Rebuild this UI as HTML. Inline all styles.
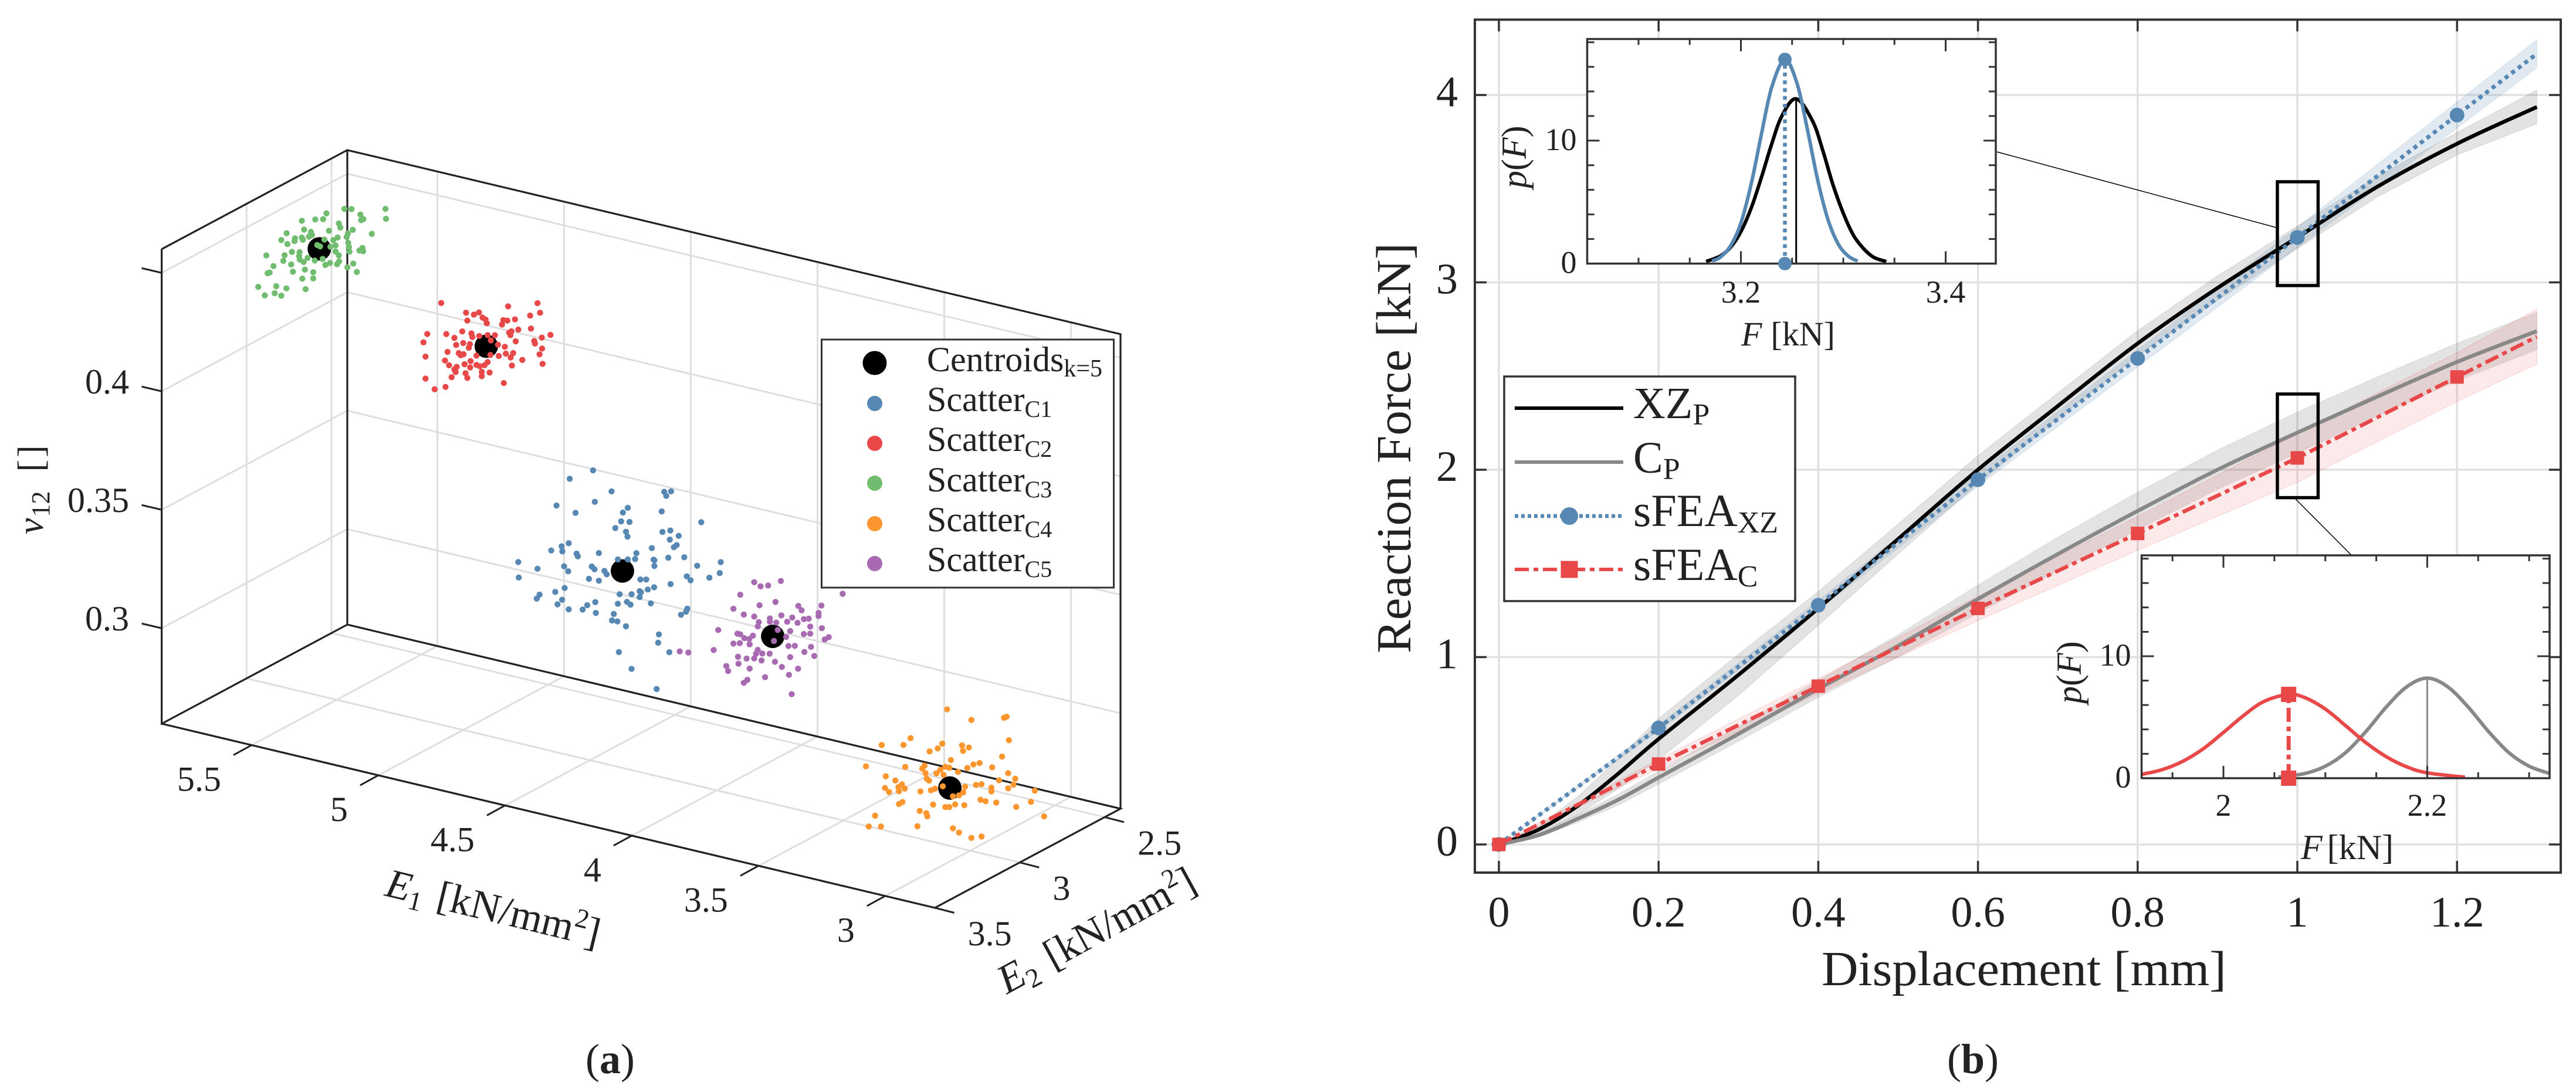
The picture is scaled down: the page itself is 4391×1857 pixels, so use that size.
<!DOCTYPE html>
<html lang="en">
<head>
<meta charset="utf-8">
<title>Clustered scatter and reaction force curves</title>
<style>
html,body{margin:0;padding:0;background:#fff;}
svg{display:block;font-family:"Liberation Serif",serif;fill:#222;}
text{fill:#222;}
</style>
</head>
<body>
<svg id="figure" xmlns="http://www.w3.org/2000/svg" width="4391" height="1857" viewBox="0 0 4391 1857">
  <rect x="0" y="0" width="4391" height="1857" fill="#ffffff"/>

  <g id="panelA">
    <g id="a3dGrid"></g>
    <g id="a3dBox"></g>
    <g id="a3dAxes"></g>
    <g id="a3dPoints"></g>

    <text transform="translate(73,911) rotate(-90)" font-size="62"><tspan font-style="italic">ν</tspan><tspan font-size="44" dy="11" dx="2">12</tspan><tspan dy="-11" dx="33">[</tspan><tspan dx="4">]</tspan></text>
    <text transform="translate(654,1527) rotate(13.6)" font-size="70"><tspan font-style="italic">E</tspan><tspan font-size="46" dy="12">1</tspan><tspan dy="-12" dx="24">[kN/mm</tspan><tspan font-size="46" dy="-26">2</tspan><tspan dy="26">]</tspan></text>
    <text transform="translate(1716,1696) rotate(-28.6)" font-size="70"><tspan font-style="italic">E</tspan><tspan font-size="46" dy="12">2</tspan><tspan dy="-12" dx="24">[kN/mm</tspan><tspan font-size="46" dy="-26">2</tspan><tspan dy="26">]</tspan></text>

    <g>
      <rect x="1400.5" y="579" width="498" height="423" fill="#ffffff" stroke="#333" stroke-width="3"/>
      <circle cx="1491" cy="619" r="20.5" fill="#000"/>
      <circle cx="1491" cy="688" r="13" fill="#5788b3"/>
      <circle cx="1491" cy="756" r="13" fill="#e94849"/>
      <circle cx="1491" cy="824" r="13" fill="#70bd70"/>
      <circle cx="1491" cy="893" r="13" fill="#fe9630"/>
      <circle cx="1491" cy="961" r="13" fill="#a86bb2"/>
      <text x="1580" y="633" font-size="60">Centroids<tspan font-size="42" dy="9">k=5</tspan></text>
      <text x="1580" y="701" font-size="60">Scatter<tspan font-size="40" dy="10">C1</tspan></text>
      <text x="1580" y="769" font-size="60">Scatter<tspan font-size="40" dy="10">C2</tspan></text>
      <text x="1580" y="838" font-size="60">Scatter<tspan font-size="40" dy="10">C3</tspan></text>
      <text x="1580" y="906" font-size="60">Scatter<tspan font-size="40" dy="10">C4</tspan></text>
      <text x="1580" y="974" font-size="60">Scatter<tspan font-size="40" dy="10">C5</tspan></text>
    </g>
    <text x="1040" y="1830" font-size="72" text-anchor="middle">(<tspan font-weight="bold">a</tspan>)</text>
  </g>

  <g id="panelB">
    <g id="mainGrid"></g>
    <g id="mainBands"></g>
    <g id="mainSeries"></g>
    <g id="mainBoxes"></g>
    <rect x="2514" y="33.5" width="1851" height="1454.5" fill="none" stroke="#333" stroke-width="4"/>
    <g id="mainTicks"></g>
    <text x="3105" y="1680" font-size="84" textLength="690" lengthAdjust="spacingAndGlyphs">Displacement [mm]</text>
    <text transform="translate(2404,1114) rotate(-90)" font-size="84" textLength="700" lengthAdjust="spacingAndGlyphs">Reaction Force [kN]</text>

    <line x1="3404" y1="259" x2="3880" y2="388" stroke="#000" stroke-width="1.5"/>
    <line x1="3913" y1="851" x2="4008.5" y2="947" stroke="#000" stroke-width="1.5"/>

    <g id="inset1">
      <rect x="2705.5" y="66.5" width="696.5" height="383" fill="#fff"/>
      <g id="inset1Marks"></g>
      <rect x="2705.5" y="66.5" width="696.5" height="383" fill="none" stroke="#333" stroke-width="3.5"/>
      <g id="inset1Ticks"></g>
      <g id="inset1Top"></g>
      <text transform="translate(2601,321) rotate(-90)" font-size="60"><tspan font-style="italic">p</tspan>(<tspan font-style="italic">F</tspan>)</text>
      <text x="2968" y="589" font-size="58"><tspan font-style="italic">F</tspan><tspan dx="15">[kN]</tspan></text>
    </g>

    <g id="inset2">
      <rect x="3650.5" y="947" width="695.5" height="380" fill="#fff"/>
      <g id="inset2Marks"></g>
      <rect x="3650.5" y="947" width="695.5" height="380" fill="none" stroke="#333" stroke-width="3.5"/>
      <g id="inset2Ticks"></g>
      <g id="inset2Top"></g>
      <text transform="translate(3547,1200) rotate(-90)" font-size="60"><tspan font-style="italic">p</tspan>(<tspan font-style="italic">F</tspan>)</text>
      <text x="3922" y="1465" font-size="60"><tspan font-style="italic">F</tspan><tspan dx="8">[kN]</tspan></text>
    </g>

    <g>
      <rect x="2564" y="642" width="496" height="383" fill="#fff" stroke="#333" stroke-width="3.5"/>
      <line x1="2582" y1="696" x2="2767" y2="696" stroke="#000" stroke-width="6"/>
      <line x1="2582" y1="788" x2="2767" y2="788" stroke="#888" stroke-width="6"/>
      <line x1="2582" y1="880" x2="2767" y2="880" stroke="#5788b3" stroke-width="6.5" stroke-dasharray="6 5"/>
      <circle cx="2675" cy="880" r="15" fill="#5788b3"/>
      <line x1="2582" y1="971" x2="2767" y2="971" stroke="#e94849" stroke-width="6" stroke-dasharray="24 8 8 8"/>
      <rect x="2660.5" y="956.5" width="29" height="29" fill="#e94849"/>
      <text x="2784" y="713" font-size="76">XZ<tspan font-size="52" dy="11">P</tspan></text>
      <text x="2784" y="806" font-size="76">C<tspan font-size="52" dy="11">P</tspan></text>
      <text x="2784" y="897" font-size="78">sFEA<tspan font-size="52" dy="11">XZ</tspan></text>
      <text x="2784" y="989" font-size="78">sFEA<tspan font-size="52" dy="11">C</tspan></text>
    </g>
    <text x="3363" y="1830" font-size="72" text-anchor="middle">(<tspan font-weight="bold">b</tspan>)</text>
  </g>
</svg>

<script>
// ---------- Panel (a): cluster data ----------
const c1E1 = [4.488,4.580,4.415,4.207,4.180,4.199,4.632,4.481,4.351,4.370,4.557,4.217,4.377,4.344,4.061,4.400,4.358,4.352,4.214,4.183,4.150,4.185,4.584,4.612,4.653,4.609,4.553,4.548,4.465,4.256,4.158,4.169,4.317,4.128,4.191,4.390,4.351,4.322,4.246,4.249,3.984,4.246,4.783,4.602,4.707,4.586,4.493,4.482,4.443,4.434,4.077,4.504,4.465,4.301,4.278,4.118,4.103,3.988,4.029,4.182,4.600,4.637,4.699,4.781,4.710,4.610,4.628,4.383,4.336,4.304,4.299,4.304,4.272,4.247,4.390,4.354,4.340,4.260,4.584,4.529,4.511,4.479,4.477,4.116,4.121,4.141,4.406,4.413,4.392,4.358,4.228,4.231,4.187,4.386,4.336,4.237];
const c1Nu = [.3832,.3773,.3762,.3813,.3822,.3798,.3647,.3701,.3709,.3684,.3635,.3728,.3645,.3651,.3722,.3611,.3606,.3587,.3642,.3656,.3642,.3617,.3500,.3480,.3452,.3459,.3464,.3454,.3489,.3563,.3601,.3589,.3526,.3557,.3539,.3481,.3491,.3500,.3514,.3516,.3573,.3490,.3370,.3398,.3361,.3381,.3425,.3416,.3419,.3407,.3534,.3370,.3372,.3419,.3425,.3479,.3466,.3526,.3496,.3430,.3307,.3281,.3254,.3305,.3234,.3255,.3231,.3336,.3348,.3369,.3366,.3344,.3384,.3400,.3294,.3311,.3303,.3329,.3221,.3234,.3257,.3278,.3233,.3343,.3329,.3311,.3247,.3218,.3219,.3207,.3206,.3170,.3141,.3091,.3033,.2973];
const c2E1 = [5.087,4.823,4.707,4.697,4.736,4.989,4.958,4.938,4.984,4.924,4.912,4.907,4.842,4.826,4.796,4.847,4.783,4.733,4.819,4.810,4.814,4.656,4.690,5.142,5.067,5.004,4.968,5.035,4.964,4.937,4.875,4.904,4.891,5.157,5.028,5.000,4.974,4.978,4.863,4.836,4.793,4.720,4.717,4.689,4.699,4.687,5.062,5.018,5.010,4.999,5.149,4.948,4.893,4.860,4.832,4.803,4.813,4.767,5.072,4.971,4.995,5.056,4.973,5.026,5.035,5.030,4.948,4.935,4.916,4.904,4.808,4.991,4.927,4.896,4.927,5.046,4.984,5.149,4.840,5.070,5.113];
const c2Nu = [.4384,.4437,.4480,.4442,.4420,.4368,.4368,.4382,.4336,.4364,.4359,.4344,.4374,.4376,.4389,.4354,.4349,.4366,.4327,.4335,.4318,.4359,.4339,.4239,.4258,.4285,.4286,.4250,.4272,.4283,.4302,.4295,.4276,.4200,.4222,.4237,.4239,.4223,.4265,.4263,.4297,.4317,.4307,.4293,.4266,.4229,.4184,.4190,.4183,.4190,.4142,.4197,.4214,.4218,.4235,.4245,.4224,.4225,.4145,.4168,.4149,.4129,.4141,.4130,.4117,.4107,.4158,.4156,.4165,.4181,.4191,.4112,.4134,.4139,.4116,.4081,.4094,.4049,.4109,.4034,.4013];
const c3E1 = [5.307,5.305,5.469,5.441,5.540,5.406,5.394,5.403,5.584,5.553,5.637,5.491,5.485,5.361,5.436,5.455,5.460,5.530,5.628,5.697,5.601,5.597,5.609,5.637,5.664,5.718,5.666,5.633,5.694,5.548,5.496,5.513,5.576,5.565,5.524,5.504,5.454,5.451,5.398,5.410,5.395,5.449,5.504,5.491,5.676,5.777,5.705,5.646,5.648,5.710,5.645,5.614,5.586,5.630,5.555,5.526,5.544,5.498,5.490,5.434,5.457,5.420,5.749,5.679,5.625,5.672,5.764,5.772,5.592,5.635,5.592,5.809,5.738,5.698,5.622,5.744,5.783,5.718];
const c3Nu = [.4721,.4680,.4680,.4686,.4643,.4672,.4656,.4649,.4606,.4615,.4587,.4613,.4597,.4602,.4600,.4580,.4564,.4572,.4552,.4519,.4549,.4537,.4527,.4516,.4506,.4485,.4494,.4508,.4474,.4530,.4552,.4537,.4500,.4497,.4506,.4517,.4540,.4523,.4533,.4519,.4520,.4504,.4491,.4478,.4446,.4405,.4424,.4452,.4435,.4399,.4421,.4436,.4432,.4415,.4447,.4437,.4424,.4439,.4453,.4458,.4436,.4426,.4367,.4392,.4384,.4363,.4336,.4331,.4381,.4343,.4355,.4264,.4285,.4286,.4302,.4254,.4235,.4250];
const c4E1 = [3.091,2.995,2.866,2.856,2.847,3.235,3.263,3.349,3.110,3.128,3.160,3.032,3.005,3.028,2.874,3.076,3.411,3.256,3.189,3.180,3.098,3.117,3.082,3.011,2.987,2.963,2.913,2.850,3.048,3.176,3.171,3.133,3.105,3.333,3.295,3.269,2.886,2.822,2.829,2.977,2.955,3.020,2.916,3.162,3.108,3.336,3.283,3.258,2.745,2.850,2.916,3.320,3.281,3.196,3.155,3.139,3.027,3.068,3.044,2.959,2.939,2.897,2.760,2.818,2.708,3.267,3.281,3.146,3.059,3.023,3.098,3.082,3.199,3.173,3.169,3.375,3.400,3.352,3.208,3.068,3.044,2.995,2.955];
const c4Nu = [.3186,.3166,.3208,.3215,.3118,.3028,.2992,.2970,.3037,.3012,.2991,.3049,.3047,.3027,.3042,.2976,.2864,.2901,.2911,.2926,.2942,.2925,.2942,.2959,.2980,.2992,.2987,.2978,.2933,.2895,.2873,.2905,.2906,.2842,.2834,.2824,.2939,.2962,.2935,.2896,.2905,.2878,.2900,.2867,.2857,.2792,.2809,.2809,.2931,.2914,.2884,.2779,.2792,.2813,.2828,.2839,.2852,.2825,.2835,.2838,.2837,.2842,.2880,.2844,.2832,.2750,.2738,.2770,.2793,.2799,.2772,.2776,.2730,.2727,.2715,.2665,.2613,.2625,.2663,.2690,.2678,.2668,.2684];
const c5E1 = [3.852,3.827,3.797,3.747,3.907,3.503,3.768,3.831,3.934,3.678,3.665,3.587,3.893,3.852,3.790,3.745,3.598,3.702,3.656,3.637,3.834,3.838,3.790,3.765,3.722,3.681,3.598,3.631,3.585,3.994,3.918,3.907,3.759,3.710,3.656,3.631,3.558,3.574,3.857,3.872,3.891,3.726,3.934,3.909,3.870,3.838,3.774,3.717,3.692,3.628,4.012,4.146,4.112,3.845,3.820,3.791,3.654,3.615,3.916,3.882,3.852,3.710,3.914,3.770,3.743,3.962,3.955,3.870,3.823,3.679,3.715,3.809,3.879,3.893,3.704];
const c5Nu = [.3526,.3515,.3526,.3558,.3459,.3566,.3464,.3434,.3393,.3470,.3455,.3495,.3379,.3381,.3389,.3413,.3461,.3415,.3420,.3427,.3362,.3343,.3375,.3378,.3392,.3398,.3448,.3395,.3400,.3288,.3292,.3292,.3348,.3356,.3357,.3365,.3369,.3355,.3299,.3281,.3280,.3327,.3246,.3254,.3259,.3244,.3298,.3291,.3298,.3310,.3199,.3159,.3163,.3226,.3233,.3240,.3282,.3275,.3195,.3196,.3204,.3246,.3166,.3211,.3196,.3144,.3125,.3157,.3203,.3205,.3170,.3136,.3107,.3091,.3091];
const centroidE1 = [4.372,4.909,5.568,3.08,3.779];
const centroidNu = [.3437,.4247,.4486,.2857,.3316];
const clusterE2 = [3,3,3,3,3];
const clusterNuCal = [-.0009,-.0007,-.0003,-.0016,-.0013];
const e1Ticks = [5.5,5,4.5,4,3.5,3];
const e1Labels = ['5.5','5','4.5','4','3.5','3'];
const e2Ticks = [3.5,3,2.5];
const e2Labels = ['3.5','3','2.5'];
const nuTicks = [.45,.4,.35,.3];
const nuLabels = ['','0.4','0.35','0.3'];

// ---------- Panel (b): curve data ----------
const probeDisp = [0,.05,.1,.15,.2,.3,.4,.5,.6,.7,.8,.9,1,1.1,1.2,1.3];
const xzP = [0,.08,.21,.38,.563,.905,1.26,1.63,2.0,2.34,2.674,2.97,3.24,3.51,3.74,3.936];
const xzPBand = [0,.02,.05,.08,.11,.11,.09,.08,.075,.07,.068,.065,.06,.055,.06,.09];
const cP = [0,.05,.14,.24,.357,.59,.83,1.06,1.31,1.55,1.78,2.0,2.198,2.39,2.575,2.74];
const cPBand = [0,.01,.02,.03,.035,.04,.045,.06,.075,.09,.10,.105,.11,.105,.10,.10];
const sfeaDisp = [0,.2,.4,.6,.8,1,1.2,1.3];
const sfeaXZ = [0,.622,1.277,1.947,2.594,3.24,3.893,4.22];
const sfeaXZBand = [0,.015,.025,.035,.045,.055,.07,.075];
const sfeaC = [0,.429,.845,1.26,1.66,2.063,2.495,2.71];
const sfeaCBand = [0,.025,.04,.065,.09,.13,.13,.146];
const mainXTicks = [0,.2,.4,.6,.8,1,1.2];
const mainXLabels = ['0','0.2','0.4','0.6','0.8','1','1.2'];
const mainYTicks = [0,1,2,3,4];
const mainYLabels = ['0','1','2','3','4'];
const boxDisp = [.975,1.026];
const boxForceUpper = [2.983,3.537];
const boxForceLower = [1.851,2.404];

const inset1FBlack = [3.166,3.18,3.19,3.2,3.21,3.22,3.23,3.24,3.254,3.27,3.28,3.29,3.30,3.31,3.32,3.33,3.342];
const inset1PBlack = [.17,.62,1.33,2.6,4.5,7.0,9.7,12.0,13.4,11.6,9.2,6.4,4.1,2.3,1.2,.5,.17];
const inset1FBlue = [3.172,3.18,3.19,3.2,3.21,3.22,3.23,3.243,3.255,3.265,3.275,3.285,3.295,3.305,3.314];
const inset1PBlue = [.21,.53,1.45,3.3,6.45,10.5,14.3,16.6,14.6,10.9,6.8,3.6,1.6,.6,.21];
const inset1Stem = [3.243,16.6,3.254,13.4];
const inset1XTicks = [3.1,3.15,3.2,3.25,3.3,3.35,3.4];
const inset1XLabels = ['','','3.2','','','','3.4'];
const inset1YTicks = [0,2,4,6,8,10,12,14,16,18];
const inset1YLabels = ['0','','','','','10','','','',''];

const inset2FRed = [1.92,1.94,1.96,1.98,2.0,2.02,2.04,2.064,2.08,2.10,2.12,2.14,2.16,2.18,2.2,2.237];
const inset2PRed = [.32,.7,1.38,2.4,3.75,5.15,6.3,6.87,6.6,5.67,4.3,2.9,1.75,.93,.44,.08];
const inset2FGray = [2.054,2.08,2.10,2.12,2.14,2.16,2.18,2.2,2.22,2.24,2.26,2.28,2.30,2.32];
const inset2PGray = [.09,.39,.98,2.1,3.84,5.85,7.5,8.2,7.5,5.85,3.84,2.1,.98,.39];
const inset2Stem = [2.064,6.87,2.2,8.2];
const inset2XTicks = [1.95,2,2.05,2.1,2.15,2.2,2.25,2.3];
const inset2XLabels = ['','2','','','','2.2','',''];
const inset2YTicks = [0,2,4,6,8,10,12,14,16,18];
const inset2YLabels = ['0','','','','','10','','','',''];

// ---------- helpers ----------
const SVGNS = 'http://www.w3.org/2000/svg';
function make(tag, attrs, parent) {
  const el = document.createElementNS(SVGNS, tag);
  for (const k in attrs) el.setAttribute(k, attrs[k]);
  parent.appendChild(el);
  return el;
}
function byId(id) { return document.getElementById(id); }
function polyD(pts) {
  return pts.map((p, i) => (i ? 'L' : 'M') + p[0].toFixed(1) + ' ' + p[1].toFixed(1)).join(' ');
}
function smoothD(pts) {
  let d = 'M' + pts[0][0].toFixed(1) + ' ' + pts[0][1].toFixed(1);
  for (let i = 0; i < pts.length - 1; i++) {
    const p0 = pts[Math.max(i - 1, 0)], p1 = pts[i], p2 = pts[i + 1], p3 = pts[Math.min(i + 2, pts.length - 1)];
    const c1x = p1[0] + (p2[0] - p0[0]) / 6, c1y = p1[1] + (p2[1] - p0[1]) / 6;
    const c2x = p2[0] - (p3[0] - p1[0]) / 6, c2y = p2[1] - (p3[1] - p1[1]) / 6;
    d += ' C' + c1x.toFixed(1) + ' ' + c1y.toFixed(1) + ' ' + c2x.toFixed(1) + ' ' + c2y.toFixed(1) + ' ' + p2[0].toFixed(1) + ' ' + p2[1].toFixed(1);
  }
  return d;
}

// ---------- panel (a) axes ----------
const E1_MIN = 2.804, E1_MAX = 5.855, E2_MIN = 2.407, E2_MAX = 3.5, NU_MIN = .2597, NU_MAX = .46;
function proj(e1, e2, nu) {
  return [
    1593.6 - (e1 - E1_MIN) * 432 + (E2_MAX - e2) * 289.5,
    1548 - (e1 - E1_MIN) * 102.9 - (E2_MAX - e2) * 154.6 - (nu - NU_MIN) * 4040
  ];
}
const gridA = byId('a3dGrid');
nuTicks.forEach(v => {
  const l = make('path', {d: polyD([proj(E1_MAX, E2_MAX, v), proj(E1_MAX, E2_MIN, v), proj(E1_MIN, E2_MIN, v)]), fill: 'none', stroke: '#dedede', 'stroke-width': 3}, gridA);
  
  
});
e1Ticks.forEach(v => {
  const l = make('path', {d: polyD([proj(v, E2_MAX, NU_MIN), proj(v, E2_MIN, NU_MIN), proj(v, E2_MIN, NU_MAX)]), fill: 'none', stroke: '#dedede', 'stroke-width': 3}, gridA);
  
  
});
e2Ticks.forEach(v => {
  const l = make('path', {d: polyD([proj(E1_MIN, v, NU_MIN), proj(E1_MAX, v, NU_MIN), proj(E1_MAX, v, NU_MAX)]), fill: 'none', stroke: '#dedede', 'stroke-width': 3}, gridA);
  
  
});

const boxA = byId('a3dBox');
const boxPaths = [
  [proj(E1_MAX, E2_MAX, NU_MAX), proj(E1_MAX, E2_MIN, NU_MAX), proj(E1_MIN, E2_MIN, NU_MAX), proj(E1_MIN, E2_MIN, NU_MIN)],
  [proj(E1_MAX, E2_MAX, NU_MAX), proj(E1_MAX, E2_MAX, NU_MIN), proj(E1_MAX, E2_MIN, NU_MIN), proj(E1_MAX, E2_MIN, NU_MAX)],
  [proj(E1_MAX, E2_MIN, NU_MIN), proj(E1_MIN, E2_MIN, NU_MIN), proj(E1_MIN, E2_MAX, NU_MIN), proj(E1_MAX, E2_MAX, NU_MIN)]
];
boxPaths.forEach(pts => {
  const l = make('path', {d: polyD(pts), fill: 'none', stroke: '#222', 'stroke-width': 3.2, 'stroke-linejoin': 'miter'}, boxA);
  
  
});

const axesA = byId('a3dAxes');
e1Ticks.forEach((v, i) => {
  const p = proj(v, E2_MAX, NU_MIN);
  const t = make('line', {x1: p[0], y1: p[1], x2: p[0] - 31, y2: p[1] + 17, stroke: '#222', 'stroke-width': 3}, axesA);
  
  
  const lab = make('text', {x: p[0] - 52, y: p[1] + 78, 'font-size': 60, 'text-anchor': 'end'}, axesA);
  lab.textContent = e1Labels[i];
  
  
});
e2Ticks.forEach((v, i) => {
  const p = proj(E1_MIN, v, NU_MIN);
  const t = make('line', {x1: p[0], y1: p[1], x2: p[0] + 33, y2: p[1] + 8.5, stroke: '#222', 'stroke-width': 3}, axesA);
  
  
  const lab = make('text', {x: p[0] + 56, y: p[1] + 64, 'font-size': 60}, axesA);
  lab.textContent = e2Labels[i];
  
  
});
nuTicks.forEach((v, i) => {
  const p = proj(E1_MAX, E2_MAX, v);
  const t = make('line', {x1: p[0], y1: p[1], x2: p[0] - 34, y2: p[1] - 8, stroke: '#222', 'stroke-width': 3}, axesA);
  
  
  if (nuLabels[i]) {
    const lab = make('text', {x: 220, y: p[1] + 4, 'font-size': 60, 'text-anchor': 'end'}, axesA);
    lab.textContent = nuLabels[i];
    
    
  }
});

const clusterColors = ['#5788b3', '#e94849', '#70bd70', '#fe9630', '#a86bb2'];
const clusterE1 = [c1E1, c2E1, c3E1, c4E1, c5E1];
const clusterNu = [c1Nu, c2Nu, c3Nu, c4Nu, c5Nu];
const pointsA = byId('a3dPoints');
centroidE1.forEach((e, i) => {
  const p = proj(e, clusterE2[i], centroidNu[i] + clusterNuCal[i]);
  const c = make('circle', {cx: p[0], cy: p[1], r: 20, fill: '#000'}, pointsA);
  
  
});
clusterE1.forEach((arr, i) => {
  arr.forEach((e, j) => {
    const p = proj(e, clusterE2[i], clusterNu[i][j] + clusterNuCal[i]);
    const c = make('circle', {cx: p[0], cy: p[1], r: 5.2, fill: clusterColors[i]}, pointsA);
    
    
  });
});

// ---------- panel (b) axes ----------
const mx = v => 2555 + 1361 * v;
const my = v => 1440 - 319.5 * v;
const FRAME = {l: 2514, r: 4365, t: 33.5, b: 1488};

const gridB = byId('mainGrid');
mainXTicks.forEach(v => {
  const l = make('line', {x1: mx(v), y1: FRAME.t, x2: mx(v), y2: FRAME.b, stroke: '#e1e1e1', 'stroke-width': 3.5}, gridB);
  
  
});
mainYTicks.forEach(v => {
  const l = make('line', {x1: FRAME.l, y1: my(v), x2: FRAME.r, y2: my(v), stroke: '#e1e1e1', 'stroke-width': 3.5}, gridB);
  
  
});

function bandPath(xs, ys, hw) {
  const up = xs.map((x, i) => [mx(x), my(ys[i] + hw[i])]);
  const lo = xs.map((x, i) => [mx(x), my(ys[i] - hw[i])]).reverse();
  return polyD(up.concat(lo)) + ' Z';
}
const bandsB = byId('mainBands');
const bandBlack = make('path', {d: bandPath(probeDisp, xzP, xzPBand), fill: 'rgba(0,0,0,.11)', stroke: 'rgba(0,0,0,.08)', 'stroke-width': 1.5}, bandsB);


const bandGray = make('path', {d: bandPath(probeDisp, cP, cPBand), fill: 'rgba(0,0,0,.11)', stroke: 'rgba(0,0,0,.06)', 'stroke-width': 1.5}, bandsB);


const bandRed = make('path', {d: bandPath(sfeaDisp, sfeaC, sfeaCBand), fill: 'rgba(233,72,73,.12)', stroke: 'rgba(233,72,73,.15)', 'stroke-width': 1.5}, bandsB);


const bandBlue = make('path', {d: bandPath(sfeaDisp, sfeaXZ, sfeaXZBand), fill: 'rgba(87,136,179,.18)', stroke: 'rgba(87,136,179,.12)', 'stroke-width': 1.5}, bandsB);



const seriesB = byId('mainSeries');
const lineBlack = make('path', {d: smoothD(probeDisp.map((x, i) => [mx(x), my(xzP[i])])), fill: 'none', stroke: '#000', 'stroke-width': 6.5}, seriesB);


const lineGray = make('path', {d: smoothD(probeDisp.map((x, i) => [mx(x), my(cP[i])])), fill: 'none', stroke: '#888', 'stroke-width': 6.5}, seriesB);


const lineBlue = make('path', {d: polyD(sfeaDisp.map((x, i) => [mx(x), my(sfeaXZ[i])])), fill: 'none', stroke: '#5788b3', 'stroke-width': 7, 'stroke-dasharray': '7 7'}, seriesB);


const lineRed = make('path', {d: polyD(sfeaDisp.map((x, i) => [mx(x), my(sfeaC[i])])), fill: 'none', stroke: '#e94849', 'stroke-width': 6.5, 'stroke-dasharray': '24 8 8 8'}, seriesB);


sfeaDisp.forEach((x, i) => {
  if (x > 1.2) return;
  const c = make('circle', {cx: mx(x), cy: my(sfeaXZ[i]), r: 12.5, fill: '#5788b3'}, seriesB);
  
  
});
sfeaDisp.forEach((x, i) => {
  if (x > 1.2) return;
  const s = make('rect', {x: mx(x) - 11.5, y: my(sfeaC[i]) - 11.5, width: 23, height: 23, fill: '#e94849'}, seriesB);
  
  
});

const boxesB = byId('mainBoxes');
[boxForceUpper, boxForceLower].forEach(r => {
  const b = make('rect', {x: mx(boxDisp[0]), y: my(r[1]), width: mx(boxDisp[1]) - mx(boxDisp[0]), height: my(r[0]) - my(r[1]), fill: 'none', stroke: '#000', 'stroke-width': 5.5}, boxesB);
  
  
});

const ticksB = byId('mainTicks');
mainXTicks.forEach((v, i) => {
  const a = make('line', {x1: mx(v), y1: FRAME.b, x2: mx(v), y2: FRAME.b - 20, stroke: '#333', 'stroke-width': 3.5}, ticksB);
  
  
  const b = make('line', {x1: mx(v), y1: FRAME.t, x2: mx(v), y2: FRAME.t + 20, stroke: '#333', 'stroke-width': 3.5}, ticksB);
  
  
  const lab = make('text', {x: mx(v), y: 1580, 'font-size': 74, 'text-anchor': 'middle'}, ticksB);
  lab.textContent = mainXLabels[i];
  
  
});
mainYTicks.forEach((v, i) => {
  const a = make('line', {x1: FRAME.l, y1: my(v), x2: FRAME.l + 20, y2: my(v), stroke: '#333', 'stroke-width': 3.5}, ticksB);
  
  
  const b = make('line', {x1: FRAME.r, y1: my(v), x2: FRAME.r - 20, y2: my(v), stroke: '#333', 'stroke-width': 3.5}, ticksB);
  
  
  const lab = make('text', {x: 2485, y: my(v) + 19, 'font-size': 74, 'text-anchor': 'end'}, ticksB);
  lab.textContent = mainYLabels[i];
  
  
});

// ---------- insets ----------
function drawInsetTicks(g, fx, fy, box, xTicks, xLabels, yTicks, yLabels, labelY) {
  xTicks.forEach((v, i) => {
    const len = xLabels[i] ? 21 : 10;
    const a = make('line', {x1: fx(v), y1: box.b, x2: fx(v), y2: box.b - len, stroke: '#333', 'stroke-width': 3}, g);
    
    
    const b = make('line', {x1: fx(v), y1: box.t, x2: fx(v), y2: box.t + len, stroke: '#333', 'stroke-width': 3}, g);
    
    
    if (xLabels[i]) {
      const lab = make('text', {x: fx(v), y: labelY, 'font-size': 54, 'text-anchor': 'middle'}, g);
      lab.textContent = xLabels[i];
      
      
    }
  });
  yTicks.forEach((v, i) => {
    const len = yLabels[i] ? 21 : 12;
    const a = make('line', {x1: box.l, y1: fy(v), x2: box.l + len, y2: fy(v), stroke: '#333', 'stroke-width': 3}, g);
    
    
    const b = make('line', {x1: box.r, y1: fy(v), x2: box.r - len, y2: fy(v), stroke: '#333', 'stroke-width': 3}, g);
    
    
    if (yLabels[i]) {
      const lab = make('text', {x: box.l - 18, y: fy(v) + 16, 'font-size': 54, 'text-anchor': 'end'}, g);
      lab.textContent = yLabels[i];
      
      
    }
  });
}

// inset 1
const i1x = v => 2967.5 + 1745 * (v - 3.2);
const i1y = v => 449.5 - 20.97 * v;
drawInsetTicks(byId('inset1Ticks'), i1x, i1y, {l: 2705.5, r: 3402, t: 66.5, b: 449.5}, inset1XTicks, inset1XLabels, inset1YTicks, inset1YLabels, 516);
const m1 = byId('inset1Marks');
const i1StemBlack = make('line', {x1: i1x(inset1Stem[2]), y1: i1y(0), x2: i1x(inset1Stem[2]), y2: i1y(inset1Stem[3]), stroke: '#000', 'stroke-width': 3}, m1);


const i1CurveBlack = make('path', {d: smoothD(inset1FBlack.map((f, i) => [i1x(f), i1y(inset1PBlack[i])])), fill: 'none', stroke: '#000', 'stroke-width': 6}, m1);


const i1CurveBlue = make('path', {d: smoothD(inset1FBlue.map((f, i) => [i1x(f), i1y(inset1PBlue[i])])), fill: 'none', stroke: '#5788b3', 'stroke-width': 6}, m1);


const i1StemBlue = make('line', {x1: i1x(inset1Stem[0]), y1: i1y(0), x2: i1x(inset1Stem[0]), y2: i1y(inset1Stem[1]), stroke: '#5788b3', 'stroke-width': 6.5, 'stroke-dasharray': '6.5 6.8'}, m1);


const t1 = byId('inset1Top');
const i1MarkTop = make('circle', {cx: i1x(inset1Stem[0]), cy: i1y(inset1Stem[1]), r: 11.5, fill: '#5788b3'}, t1);


const i1MarkBase = make('circle', {cx: i1x(inset1Stem[0]), cy: i1y(0), r: 11.5, fill: '#5788b3'}, t1);



// inset 2
const i2x = v => 3790 + 1737 * (v - 2);
const i2y = v => 1327 - 20.8 * v;
drawInsetTicks(byId('inset2Ticks'), i2x, i2y, {l: 3650.5, r: 4346, t: 947, b: 1327}, inset2XTicks, inset2XLabels, inset2YTicks, inset2YLabels, 1391);
const m2 = byId('inset2Marks');
const i2StemGray = make('line', {x1: i2x(inset2Stem[2]), y1: i2y(0), x2: i2x(inset2Stem[2]), y2: i2y(inset2Stem[3]), stroke: '#888', 'stroke-width': 3}, m2);


const i2CurveGray = make('path', {d: smoothD(inset2FGray.map((f, i) => [i2x(f), i2y(inset2PGray[i])])), fill: 'none', stroke: '#888', 'stroke-width': 6}, m2);


const i2CurveRed = make('path', {d: smoothD(inset2FRed.map((f, i) => [i2x(f), i2y(inset2PRed[i])])), fill: 'none', stroke: '#e94849', 'stroke-width': 6}, m2);


const i2StemRed = make('line', {x1: i2x(inset2Stem[0]), y1: i2y(0), x2: i2x(inset2Stem[0]), y2: i2y(inset2Stem[1]), stroke: '#e94849', 'stroke-width': 7, 'stroke-dasharray': '24 8 8 8'}, m2);


const t2 = byId('inset2Top');
const i2MarkTop = make('rect', {x: i2x(inset2Stem[0]) - 13, y: i2y(inset2Stem[1]) - 13, width: 26, height: 26, fill: '#e94849'}, t2);


const i2MarkBase = make('rect', {x: i2x(inset2Stem[0]) - 13, y: i2y(0) - 13, width: 26, height: 26, fill: '#e94849'}, t2);


</script>
</body>
</html>
